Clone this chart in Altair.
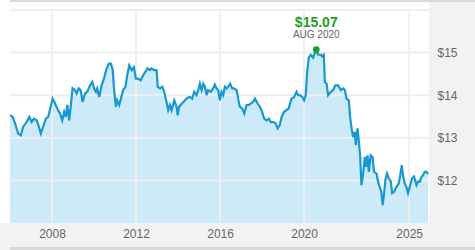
import altair as alt
import pandas as pd

# ---- data ----
years = [
    2006.00, 2006.13, 2006.24, 2006.39, 2006.51, 2006.63, 2006.79, 2006.92,
    2007.03, 2007.14, 2007.27, 2007.35, 2007.47, 2007.58, 2007.71, 2007.82, 2007.90,
    2008.03, 2008.14, 2008.25, 2008.38, 2008.49, 2008.58, 2008.66, 2008.73, 2008.82, 2008.90, 2008.98,
    2009.09, 2009.17, 2009.27, 2009.36, 2009.46, 2009.57, 2009.68, 2009.81, 2009.92,
    2010.00, 2010.09, 2010.15, 2010.25, 2010.36, 2010.47, 2010.60, 2010.71, 2010.80, 2010.89, 2010.95,
    2011.04, 2011.10, 2011.20, 2011.28, 2011.39, 2011.50, 2011.58, 2011.68, 2011.79, 2011.90, 2011.99,
    2012.10, 2012.22, 2012.34, 2012.50, 2012.55, 2012.66, 2012.74, 2012.86, 2012.98,
    2013.03, 2013.14, 2013.25, 2013.34, 2013.45, 2013.53, 2013.61, 2013.69, 2013.82, 2013.93, 2013.98,
    2014.05, 2014.20, 2014.33, 2014.45, 2014.56, 2014.67, 2014.77, 2014.88, 2014.96,
    2015.04, 2015.12, 2015.20, 2015.28, 2015.36, 2015.43, 2015.56, 2015.67, 2015.75, 2015.83, 2015.91, 2015.99,
    2016.07, 2016.15, 2016.23, 2016.31, 2016.39, 2016.48, 2016.58, 2016.67, 2016.79, 2016.86, 2016.94,
    2017.05, 2017.15, 2017.26, 2017.37, 2017.47, 2017.57, 2017.66, 2017.78, 2017.89,
    2018.00, 2018.10, 2018.21, 2018.32, 2018.42, 2018.53, 2018.64, 2018.74, 2018.84, 2018.93,
    2019.05, 2019.16, 2019.27, 2019.40, 2019.53, 2019.64, 2019.72, 2019.80, 2019.91,
    2020.00, 2020.08, 2020.14, 2020.22, 2020.32, 2020.43, 2020.58, 2020.67, 2020.80, 2020.86, 2020.94, 2020.99,
    2021.07, 2021.14, 2021.27, 2021.38, 2021.49, 2021.62, 2021.75, 2021.86, 2021.94,
    2022.02, 2022.13, 2022.19, 2022.26, 2022.33, 2022.41, 2022.46, 2022.54, 2022.60, 2022.67, 2022.73, 2022.81, 2022.89, 2022.95,
    2023.02, 2023.08, 2023.17, 2023.26, 2023.33, 2023.45, 2023.52, 2023.60, 2023.68, 2023.74, 2023.81, 2023.87, 2023.95,
    2024.03, 2024.13, 2024.19, 2024.28, 2024.40, 2024.51, 2024.59, 2024.65, 2024.71, 2024.79, 2024.87, 2024.95,
    2025.03, 2025.14, 2025.23, 2025.35, 2025.42, 2025.51, 2025.59, 2025.66, 2025.74, 2025.82, 2025.90,
]
prices = [
    13.53, 13.49, 13.34, 13.10, 13.06, 13.26, 13.37, 13.49,
    13.37, 13.45, 13.41, 13.30, 13.10, 13.26, 13.45, 13.49, 13.65,
    13.92, 13.81, 13.69, 13.57, 13.41, 13.61, 13.49, 13.77, 13.41, 13.77, 14.16,
    14.12, 14.04, 14.16, 14.12, 13.84, 14.04, 14.08, 14.23, 14.31,
    14.16, 14.08, 14.16, 13.96, 14.23, 14.39, 14.63, 14.74, 14.74, 14.59, 14.16,
    13.73, 13.88, 13.77, 13.92, 14.12, 14.20, 14.47, 14.70, 14.59, 14.66, 14.39,
    14.39, 14.35, 14.47, 14.59, 14.63, 14.59, 14.63, 14.59, 14.59,
    14.20, 14.16, 14.20, 14.08, 13.84, 13.65, 13.77, 13.65, 13.88, 13.73, 13.53,
    13.73, 13.81, 13.88, 13.94, 13.96, 13.92, 14.08, 14.00, 14.12,
    14.27, 14.12, 14.27, 14.20, 14.00, 14.12, 14.08, 14.16, 14.25, 14.16, 14.12, 13.88,
    14.08, 14.00, 14.20, 14.16, 14.20, 14.27, 14.16, 14.16, 14.12, 13.92, 13.73,
    13.69, 13.57, 13.77, 13.77, 13.81, 13.84, 13.92, 13.81, 13.73,
    13.61, 13.45, 13.41, 13.45, 13.37, 13.37, 13.34, 13.22, 13.30, 13.49,
    13.61, 13.65, 13.69, 13.92, 13.96, 14.08, 14.00, 14.00, 13.96,
    13.88, 14.00, 14.51, 14.88, 14.95, 14.88, 15.07, 14.95, 14.95, 14.91, 14.95, 14.31,
    14.27, 14.00, 14.08, 14.12, 14.23, 14.23, 14.12, 14.16, 14.12,
    13.92, 13.88, 13.49, 13.22, 13.02, 13.14, 12.83, 13.22, 12.95, 12.55, 11.89, 12.16, 12.55, 12.32,
    12.59, 12.20, 12.59, 12.55, 12.20, 12.16, 11.97, 11.85, 11.73, 11.42, 11.70, 12.01, 12.16,
    12.05, 11.97, 11.70, 11.73, 11.85, 11.93, 12.16, 12.36, 12.12, 11.93, 11.85, 11.70,
    11.85, 12.05, 12.09, 11.89, 11.97, 11.97, 12.09, 12.12, 12.20, 12.20, 12.15,
]
grid_years = [2008, 2012, 2016, 2020, 2025]
grid_prices = [12, 13, 14, 15, 16]
label_prices = [12, 13, 14, 15]
peak_date = ["2020-07-31"]
peak_price = [15.07]
peak_label = ["$15.07"]
peak_sub = ["AUG 2020"]


def to_date(t):
    y = int(t)
    return pd.Timestamp(year=y, month=1, day=1) + pd.Timedelta(days=(t - y) * 365.25)


df = pd.DataFrame({"date": [to_date(t) for t in years], "price": prices})
vgrid_df = pd.DataFrame({"date": [pd.Timestamp(year=y, month=1, day=1) for y in grid_years]})
hgrid_df = pd.DataFrame({"price": grid_prices})
peak_df = pd.DataFrame({"date": pd.to_datetime(peak_date), "price": peak_price,
                        "label": peak_label, "sub": peak_sub})

FONT = "Liberation Sans"
LINE = "#1499d6"
FILL = "#cdeaf8"
GRID = "#efefef"
PANEL = "#f2f2f2"
GREEN = "#1e9e1e"

xs = alt.Scale(domain=[alt.DateTime(year=2006, month=1, date=1),
                       alt.DateTime(year=2025, month=12, date=12)])
ys = alt.Scale(domain=[11, 16], zero=False, nice=False)

xaxis = alt.Axis(values=[alt.DateTime(year=y, month=1, date=1) for y in grid_years],
                 format="%Y", grid=False, ticks=False, domain=False, title=None,
                 labelPadding=5, labelFontSize=12, labelColor="#666666", labelFont=FONT,
                 labelFlush=False, labelOverlap=False, zindex=1)
yaxis = alt.Axis(orient="right", values=label_prices, labelExpr="'$' + datum.value",
                 grid=False, ticks=False, domain=False, title=None, labelPadding=8,
                 labelFontSize=12, labelColor="#666666", labelFont=FONT, zindex=1)

X = alt.X("date:T", scale=xs, axis=xaxis)
Y = alt.Y("price:Q", scale=ys, axis=yaxis)

one = pd.DataFrame({"a": [0]})
right_panel = alt.Chart(one).mark_rect(color=PANEL).encode(
    x=alt.value(419), x2=alt.value(465), y=alt.value(-8), y2=alt.value(240))
bottom_band = alt.Chart(one).mark_rect(color=PANEL).encode(
    x=alt.value(-10), x2=alt.value(465), y=alt.value(213), y2=alt.value(240))
top_line = alt.Chart(one).mark_rect(color="#d9d9d9").encode(
    x=alt.value(0), x2=alt.value(465), y=alt.value(-10), y2=alt.value(-8))
bottom_line = alt.Chart(one).mark_rect(color="#d9d9d9").encode(
    x=alt.value(0), x2=alt.value(465), y=alt.value(237), y2=alt.value(240))

area = alt.Chart(df).mark_area(color=FILL, clip=True).encode(x=X, y=Y, y2=alt.datum(11))
vgrid = alt.Chart(vgrid_df).mark_rule(color=GRID, strokeWidth=2).encode(x=X)
hgrid = alt.Chart(hgrid_df).mark_rule(color=GRID, strokeWidth=2).encode(y=Y)
line = alt.Chart(df).mark_line(color=LINE, strokeWidth=2.2, clip=True).encode(x=X, y=Y)
point = alt.Chart(peak_df).mark_point(filled=True, color=GREEN, size=45, opacity=1).encode(x=X, y=Y)
t1 = alt.Chart(peak_df).mark_text(color=GREEN, fontSize=14, fontWeight="bold", font=FONT,
                                  dy=-23, baseline="alphabetic", align="center").encode(
    x=X, y=Y, text="label:N")
t2 = alt.Chart(peak_df).mark_text(color="#666666", fontSize=10, font=FONT,
                                  dy=-12, baseline="alphabetic", align="center").encode(
    x=X, y=Y, text="sub:N")

chart = alt.layer(
    right_panel, bottom_band, top_line, bottom_line,
    area, vgrid, hgrid, line, point, t1, t2,
).properties(
    width=419, height=213,
    autosize=alt.AutoSizeParams(type="none"),
    padding={"left": 10, "top": 10, "right": 46, "bottom": 27},
    background="white",
).configure_view(stroke=None)

chart.save("out.html", embed_options={"renderer": "svg", "actions": False})
